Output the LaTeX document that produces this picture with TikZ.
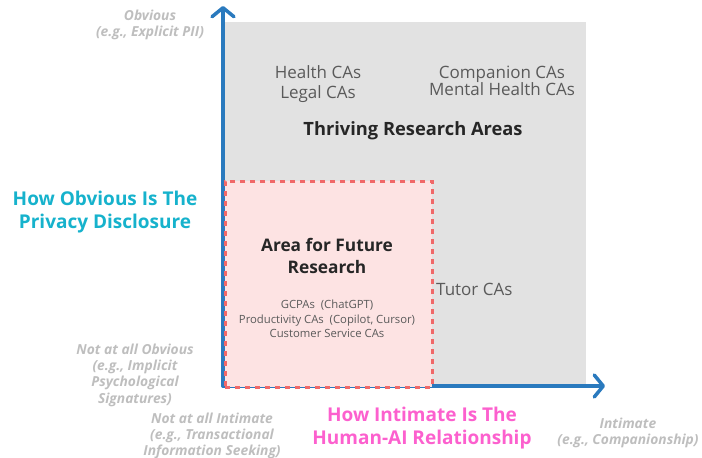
\documentclass[tikz,border=0pt]{standalone}
\usepackage{xcolor}
\usepackage{fontspec}
\setmainfont{Open Sans}
\usepackage{tikz}
\usetikzlibrary{arrows.meta, positioning}
\definecolor{axisblue}{RGB}{42, 122, 190}
\definecolor{areagray}{RGB}{226, 226, 226}
\definecolor{futurepink}{RGB}{253, 227, 227}
\definecolor{dashred}{RGB}{240, 104, 104}
\definecolor{titlecyan}{RGB}{22, 178, 204}
\definecolor{titlemagenta}{RGB}{252, 96, 206}
\definecolor{hintgray}{RGB}{190, 190, 190}
\definecolor{labelgray}{RGB}{90, 90, 90}

\begin{document}
\begin{tikzpicture}[
    x=1pt, y=-1pt,
    every node/.style={inner sep=0pt, align=center},
    axis/.style={draw=axisblue, line width=3.5pt, line cap=round,
        -{Straight Barb[length=9pt, width=22pt, line width=3.5pt, round]}},
    hint/.style={font=\fontsize{13.8}{16.3}\selectfont\bfseries\itshape, text=hintgray},
    axistitle/.style={font=\fontsize{19}{22.5}\selectfont\bfseries},
    calabel/.style={font=\fontsize{17}{20}\selectfont, text=labelgray},
    smalllabel/.style={font=\fontsize{11.3}{14.5}\selectfont, text=labelgray},
    areatitle/.style={font=\fontsize{17.3}{22}\selectfont\bfseries, text=black!85}
]
\useasboundingbox (0,0) rectangle (702,458);

% quadrant background
\fill[areagray] (224,22) rectangle (586,385);

% axes
\coordinate (origin) at (223,386);
\coordinate (ytop) at (223,6);
\coordinate (xend) at (605,386);
\draw[axis] (origin) -- (ytop);
\draw[axis] (origin) -- (xend);

% lower-left area
\node[draw=dashred, fill=futurepink, line width=2.5pt, dash pattern=on 5pt off 5pt,
    minimum width=207pt, minimum height=206pt, anchor=north west] (future) at (224,180) {};

% labels in the grey area
\node[calabel] (health) at (318,84) {Health CAs\\Legal CAs};
\node[calabel, font=\fontsize{17}{17.5}\selectfont] (companion) at (502,81) {Companion CAs\\Mental Health CAs};
\node[areatitle, font=\fontsize{18.3}{22}\selectfont\bfseries] (thriving) at (413,131) {Thriving Research Areas};
\node[calabel, anchor=west] (tutor) at (436,289) {Tutor CAs};

% labels in the pink area
\node[areatitle] (futuretitle) at (327,256) {Area for Future\\Research};
\node[smalllabel] (futurecas) at (327,319)
    {GCPAs\ \ (ChatGPT)\\Productivity CAs\ \ (Copilot, Cursor)\\Customer Service CAs};

% axis titles
\node[axistitle, text=titlecyan] (ytitle) at (105,212) {How Obvious Is The\\Privacy Disclosure};
\node[axistitle, text=titlemagenta] (xtitle) at (422,428) {How Intimate Is The\\Human-AI Relationship};

% axis end hints
\node[hint] (ymax) at (150,25) {Obvious\\(e.g., Explicit PII)};
\node[hint] (ymin) at (135,375) {Not at all Obvious\\(e.g., Implicit\\Psychological\\Signatures)};
\node[hint] (xmin) at (212,436) {Not at all Intimate\\(e.g., Transactional\\Information Seeking)};
\node[hint] (xmax) at (628,433) {Intimate\\(e.g., Companionship)};

\end{tikzpicture}
\end{document}
